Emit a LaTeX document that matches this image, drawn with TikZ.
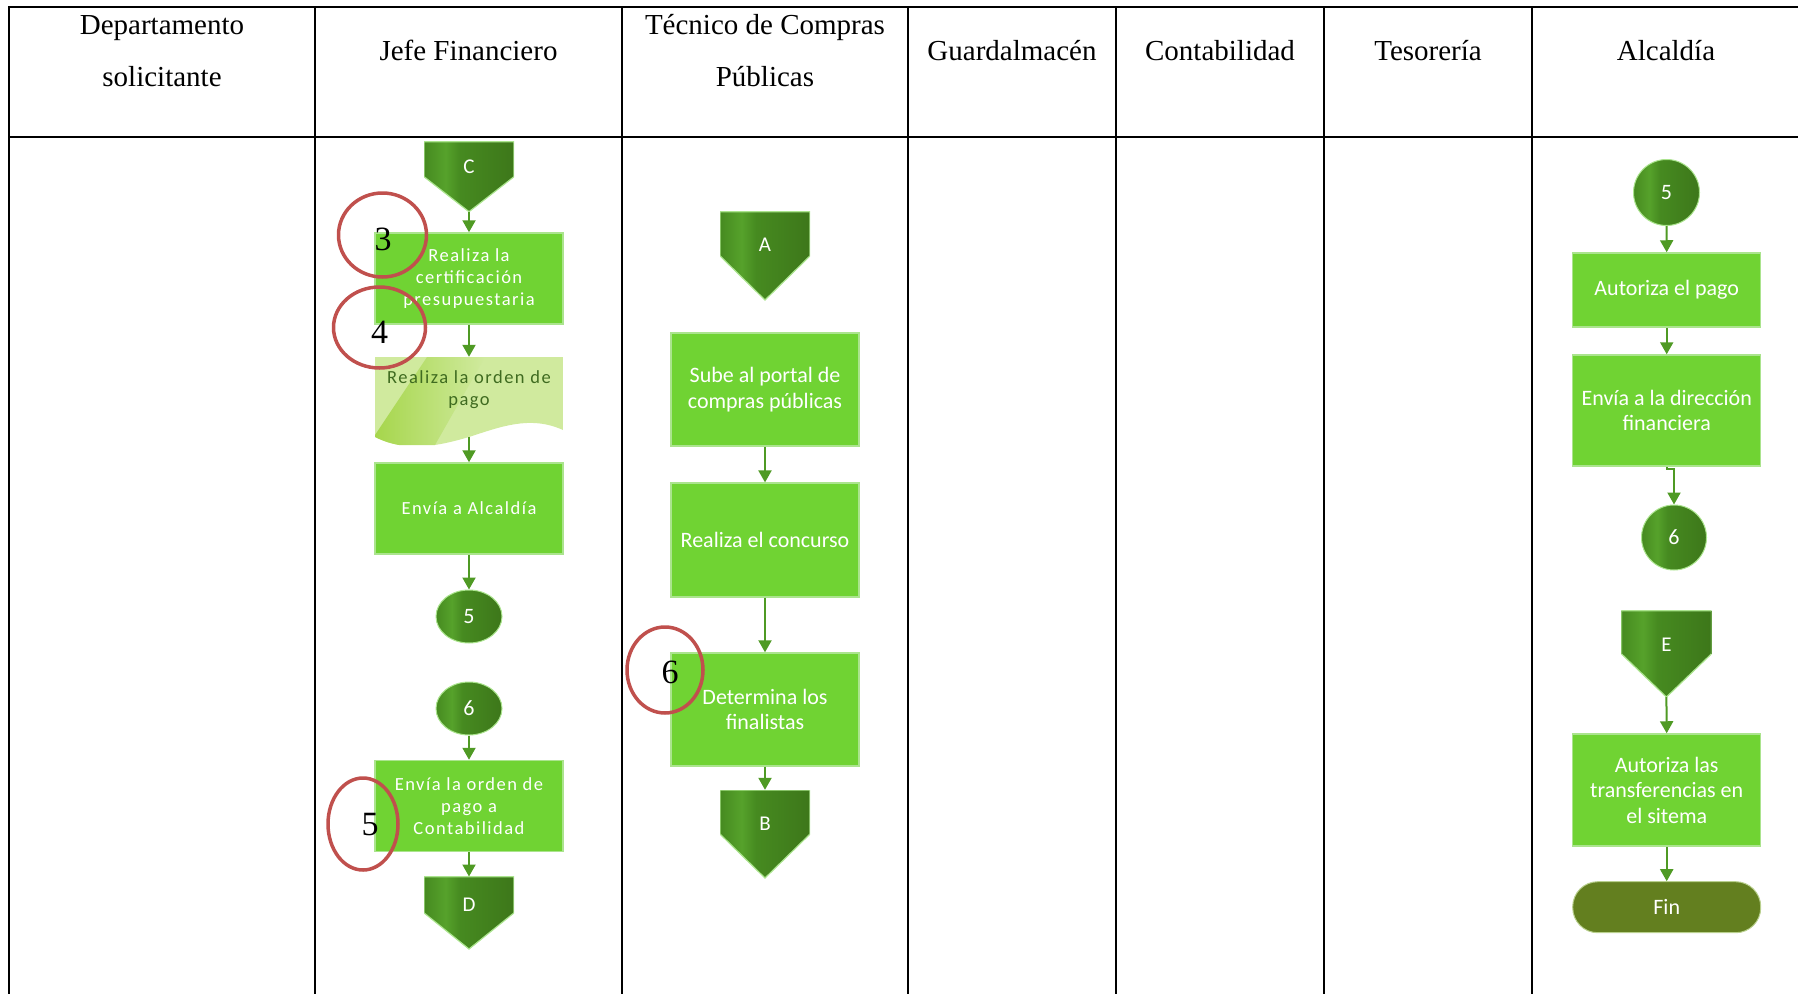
\documentclass[tikz,border=0pt]{standalone}
\usepackage{fontspec}
\setmainfont{Liberation Serif}
\newfontfamily\boxfont{Carlito}
\newfontfamily\boxfontwide[LetterSpace=8]{Carlito}
\usetikzlibrary{arrows.meta,calc,shapes.geometric}

\definecolor{boxgreen}{HTML}{70D333}
\definecolor{boxedge}{HTML}{ABE48E}
\definecolor{dkA}{HTML}{468A20}
\definecolor{dkB}{HTML}{56A22B}
\definecolor{dkC}{HTML}{3D771A}
\definecolor{flowline}{HTML}{4F9A24}
\definecolor{olive}{HTML}{637F1F}
\definecolor{olivedge}{HTML}{B9D08E}
\definecolor{markred}{HTML}{C0504D}
\definecolor{docfill}{HTML}{D0EA9E}
\definecolor{docdark}{HTML}{A6D64C}
\definecolor{doctext}{HTML}{3F6B20}

% dark green fill with a light vertical streak
\pgfdeclarehorizontalshading{darkgreen}{100bp}{color(0bp)=(dkA); color(25bp)=(dkA); color(37bp)=(dkB); color(45bp)=(dkA); color(75bp)=(dkC); color(100bp)=(dkC)}

\tikzset{
  lane/.style={draw=black, line width=2.6pt, line cap=rect},
  head/.style={font=\fontsize{29}{29}\selectfont, anchor=base, inner sep=0pt},
  flow/.style={draw=flowline, line width=2pt, -{Triangle[width=13pt,length=12pt]}},
  proc/.style={rectangle, fill=boxgreen, draw=boxedge, line width=1.5pt, text=white,
    minimum width=188pt, inner sep=0pt, align=center, font=\boxfont\fontsize{22}{25.5}\selectfont},
  jproc/.style={proc, font=\boxfontwide\fontsize{18.5}{21.7}\selectfont},
  conn/.style 2 args={rectangle, minimum width=90pt, inner sep=0pt,
    text height=#1pt, text depth=#2pt, text=white, font=\boxfont\fontsize{21}{21}\selectfont,
    path picture={
      \shade[shading=darkgreen] (path picture bounding box.north west) -- (path picture bounding box.north east)
        -- (path picture bounding box.east) -- (path picture bounding box.south)
        -- (path picture bounding box.west) -- cycle;
      \draw[boxedge, line width=1.2pt] (path picture bounding box.north west) -- (path picture bounding box.north east)
        -- (path picture bounding box.east) -- (path picture bounding box.south)
        -- (path picture bounding box.west) -- cycle;}},
  onpage/.style={ellipse, shade, shading=darkgreen, draw=boxedge, line width=1pt, inner sep=0pt,
    text=white, font=\boxfont\fontsize{22}{22}\selectfont},
  docshape/.style={rectangle, inner sep=0pt, minimum width=188pt, minimum height=88pt,
    path picture={
      \begin{scope}
        \clip (path picture bounding box.north west) -- (path picture bounding box.north east)
          -- ($(path picture bounding box.south east)+(0,-15)$)
          .. controls ($(path picture bounding box.south east)+(-33,-30)$) and ($(path picture bounding box.south)+(31,-18)$)
          .. ($(path picture bounding box.south)+(0,-8)$)
          .. controls ($(path picture bounding box.south)+(-34,2)$) and ($(path picture bounding box.south west)+(30,7)$)
          .. ($(path picture bounding box.south west)+(0,-8)$) -- cycle;
        \fill[docfill] (path picture bounding box.north west) rectangle (path picture bounding box.south east);
        \shade[left color=docdark, right color=docfill]
          ($(path picture bounding box.north west)+(52,0)$) -- ($(path picture bounding box.north west)+(110,0)$)
          -- ($(path picture bounding box.south west)+(60,0)$) -- (path picture bounding box.south west)
          -- ($(path picture bounding box.south west)+(0,-10)$) -- cycle;
      \end{scope}}},
  doctxt/.style={text=doctext, align=center, inner sep=0pt, font=\boxfontwide\fontsize{18.5}{21.7}\selectfont},
  ring/.style={ellipse, draw=markred, line width=3.5pt, inner sep=0pt},
  ringnum/.style={font=\fontsize{34}{34}\selectfont, inner sep=0pt},
  term/.style={rectangle, rounded corners=25pt, fill=olive, draw=olivedge, line width=1pt, text=white,
    minimum width=188pt, minimum height=51pt, inner sep=0pt, font=\boxfont\fontsize{22}{22}\selectfont},
}

\begin{document}
\begin{tikzpicture}[x=1pt,y=-1pt]
\useasboundingbox (0,0) rectangle (1798,993);

% swimlane table
\foreach \x in {9,315,622,908,1116,1324,1532} \draw[lane] (\x,7) -- (\x,1000);
\draw[lane] (9,7) -- (1805,7);
\draw[lane] (9,137) -- (1805,137);

% lane headings
\node[head] (hDepA) at (162,34) {Departamento};
\node[head] (hDepB) at (162,86) {solicitante};
\node[head] (hJefe) at (468.5,60) {Jefe Financiero};
\node[head] (hTecA) at (765,34) {Técnico de Compras};
\node[head] (hTecB) at (765,86) {Públicas};
\node[head] (hGua) at (1012,60) {Guardalmacén};
\node[head] (hCon) at (1220,60) {Contabilidad};
\node[head] (hTes) at (1428,60) {Tesorería};
\node[head] (hAlc) at (1666,60) {Alcaldía};

% Jefe Financiero
\node[conn={31.8}{38.2}] (C) at (469,176.7) {C};
\node[jproc, minimum height=91pt] (cert) at (469,278.5) {Realiza la\\certificación\\presupuestaria};
\node[docshape] (orden) at (469,401) {};
\node[doctxt] (ordentxt) at (469,390) {Realiza la orden de\\pago};
\coordinate (ordenfoot) at ($(orden.south)+(0,-8)$);
\node[jproc, minimum height=91pt] (alc) at (469,508.5) {Envía a Alcaldía};
\node[onpage, minimum width=66pt, minimum height=53pt] (j5) at (469,616.5) {5};
\node[onpage, minimum width=66pt, minimum height=53pt] (j6) at (469,708.5) {6};
\node[jproc, minimum height=91pt] (cont) at (469,806) {Envía la orden de\\pago a\\Contabilidad};
\node[conn={34.8}{37.5}] (D) at (469,912.85) {D};

\draw[flow] (C.south) -- (cert.north);
\draw[flow] (cert.south) -- (orden.north);
\draw[flow] (ordenfoot) -- (alc.north);
\draw[flow] (alc.south) -- (j5.north);
\draw[flow] (j6.south) -- (cont.north);
\draw[flow] (cont.south) -- (D.north);

% Técnico de Compras Públicas
\node[conn={39.8}{48.5}] (A) at (765,255.85) {A};
\node[proc, minimum height=113pt] (portal) at (765,389.5) {Sube al portal de\\compras públicas};
\node[proc, minimum height=113.7pt] (concurso) at (765,540) {Realiza el concurso};
\node[proc, minimum height=112.7pt] (final) at (765,709.4) {Determina los\\finalistas};
\node[conn={40.5}{47.5}] (B) at (765,834) {B};

\draw[flow] (portal.south) -- (concurso.north);
\draw[flow] (concurso.south) -- (final.north);
\draw[flow] (final.south) -- (B.north);

% Alcaldía
\node[onpage, minimum width=66pt, minimum height=66pt] (a5) at (1666.5,192.5) {5};
\node[proc, minimum height=74pt] (autpago) at (1666.7,290) {Autoriza el pago};
\node[proc, minimum height=111pt] (dirfin) at (1666.7,410.5) {Envía a la dirección\\financiera};
\node[onpage, minimum width=65pt, minimum height=65pt] (a6) at (1674,537.5) {6};
\node[conn={40.8}{45.5}] (E) at (1666.4,653.85) {E};
\node[proc, minimum height=112pt] (transf) at (1666.7,790) {Autoriza las\\transferencias en\\el sitema};
\node[term] (fin) at (1666.7,907.2) {Fin};

\draw[flow] (a5.south) -- (autpago.north);
\draw[flow] (autpago.south) -- (dirfin.north);
\draw[flow] (dirfin.south) -- ++(0,2) -| (a6.north);
\draw[flow] (E.south) -- (transf.north);
\draw[flow] (transf.south) -- (fin.north);

% red step markers
\node[ring, minimum width=88pt, minimum height=84pt] (r3) at (382.5,235) {};
\node[ringnum] (n3) at (383,239) {3};
\node[ring, minimum width=92pt, minimum height=81pt] (r4) at (379.5,327.5) {};
\node[ringnum] (n4) at (379.5,332) {4};
\node[ring, minimum width=70pt, minimum height=92pt] (r5) at (363,824) {};
\node[ringnum] (n5) at (370,825) {5};
\node[ring, minimum width=76pt, minimum height=86pt] (r6) at (665,670) {};
\node[ringnum] (n6) at (670,672) {6};
\end{tikzpicture}
\end{document}
